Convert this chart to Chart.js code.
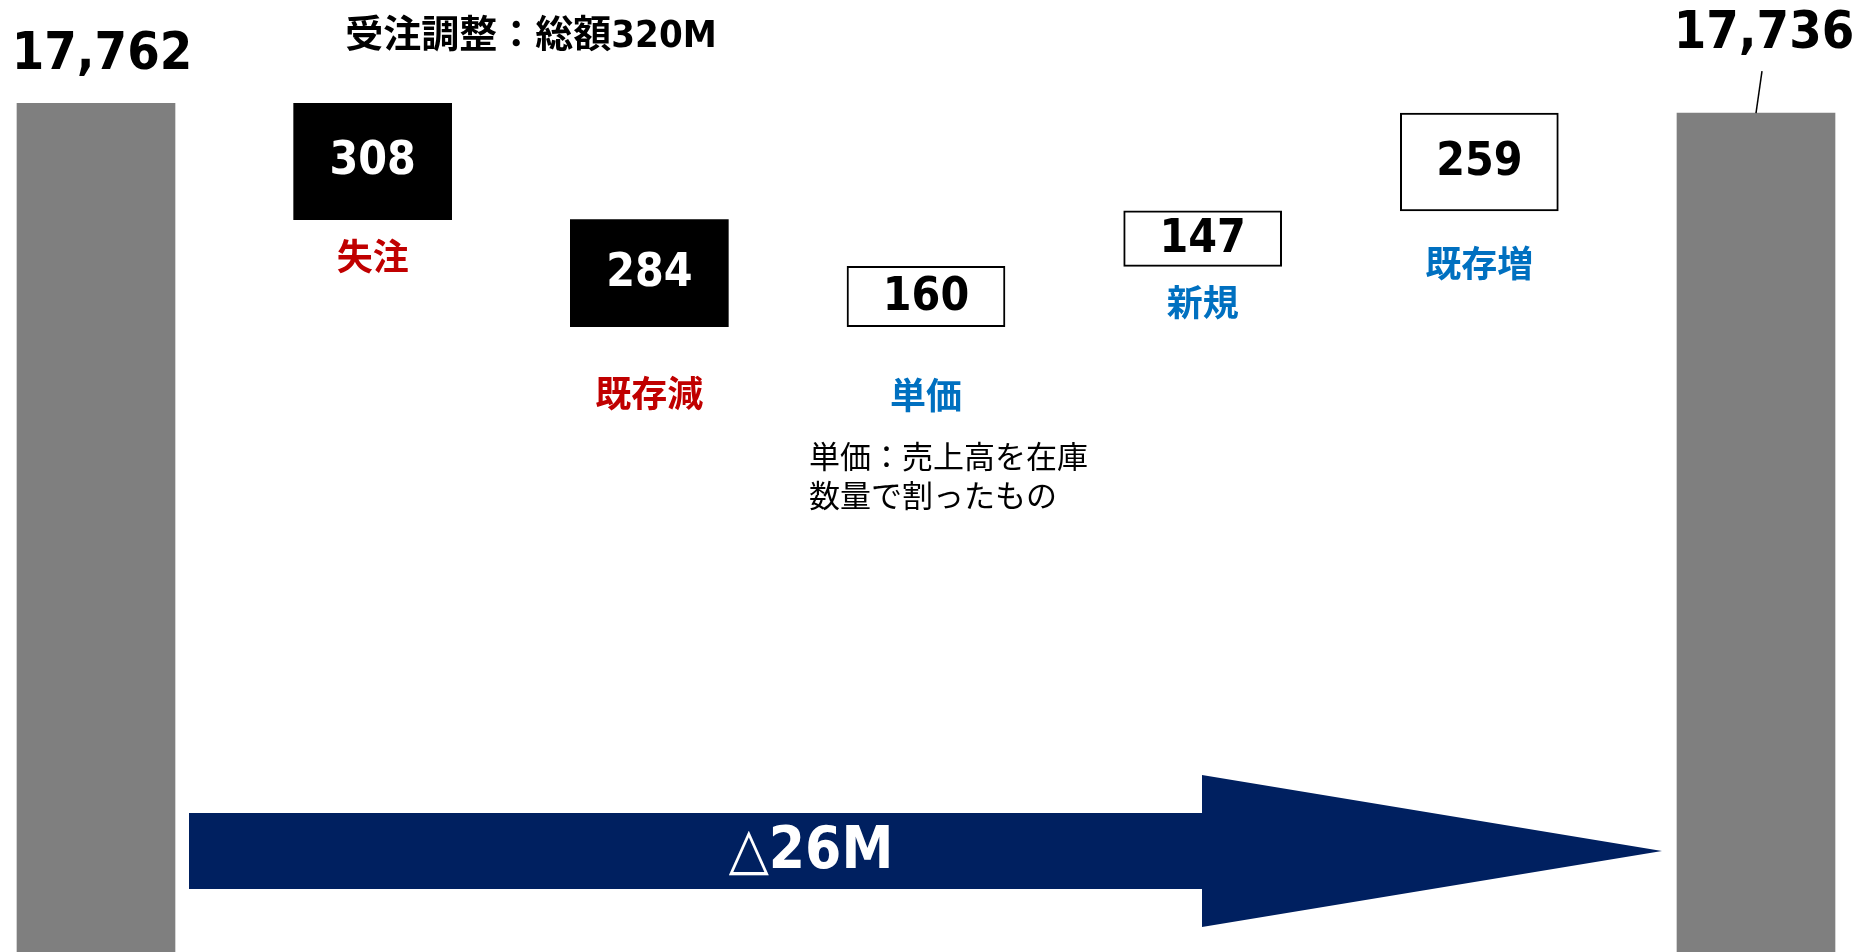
<!DOCTYPE html>
<html lang="ja">
<head>
<meta charset="utf-8">
<script src="https://cdn.jsdelivr.net/npm/chart.js@4.4.1/dist/chart.umd.min.js"></script>
<style>
  html, body { margin: 0; padding: 0; background: #ffffff; }
  #wrap { position: relative; width: 1856px; height: 952px; }
</style>
</head>
<body>
<div id="wrap"><canvas id="c"></canvas></div>
<script>
// ---- values ----
const categories = ['期首', '失注', '既存減', '単価', '新規', '既存増', '期末'];
const startTotal = 17762;
const endTotal = 17736;
const stepChanges = [-308, -284, 160, 147, 259];
const headline = '受注調整：総額320M';
const noteLines = ['単価：売上高を在庫', '数量で割ったもの'];
const axisMin = 15513;
const axisMax = 18036;

// ---- styling ----
const GRAY = '#7F7F7F';
const RED = '#C00000';
const BLUE = '#0070C0';
const NAVY = '#002060';
const NUM_FONT = "'DejaVu Sans Condensed', 'DejaVu Sans', 'Noto Sans CJK JP', sans-serif";
const JP_FONT = "'Noto Sans CJK JP', 'DejaVu Sans', sans-serif";
// distance from a box's bottom edge to the centre of its caption
const captionGap = [37, 67, 69, 36, 52];

// floating ranges of the waterfall
const ranges = [[axisMin, startTotal]];
let level = startTotal;
stepChanges.forEach(d => {
  const next = level + d;
  ranges.push([Math.min(level, next), Math.max(level, next)]);
  level = next;
});
ranges.push([axisMin, endTotal]);

const kinds = ['total', ...stepChanges.map(d => d < 0 ? 'down' : 'up'), 'total'];
const fills = kinds.map(k => k === 'total' ? GRAY : (k === 'down' ? '#000000' : '#FFFFFF'));
const borders = kinds.map(k => k === 'up' ? 2 : 0);

const fmt = v => v.toLocaleString('en-US');

const annotate = {
  id: 'annotate',
  afterDatasetsDraw(chart) {
    const ctx = chart.ctx;
    const bars = chart.getDatasetMeta(0).data;
    ctx.save();
    ctx.textAlign = 'center';
    ctx.textBaseline = 'middle';

    // step boxes: value inside, caption below
    stepChanges.forEach((d, i) => {
      const b = bars[i + 1];
      const top = Math.min(b.y, b.base), bottom = Math.max(b.y, b.base);
      ctx.fillStyle = d < 0 ? '#FFFFFF' : '#000000';
      ctx.font = `bold 46px ${NUM_FONT}`;
      ctx.fillText(String(Math.abs(d)), b.x, (top + bottom) / 2 + 1);
      ctx.fillStyle = d < 0 ? RED : BLUE;
      ctx.font = `bold 36px ${JP_FONT}`;
      ctx.fillText(categories[i + 1], b.x, bottom + captionGap[i]);
    });

    // note under the unit-price caption
    const pb = bars[3];
    ctx.fillStyle = '#000000';
    ctx.textAlign = 'left';
    ctx.font = `31px ${JP_FONT}`;
    noteLines.forEach((t, k) => ctx.fillText(t, pb.x - 117, Math.max(pb.y, pb.base) + 129 + k * 39));

    // totals above the gray bars
    ctx.textAlign = 'center';
    ctx.textBaseline = 'alphabetic';
    ctx.font = `bold 52px ${NUM_FONT}`;
    const first = bars[0], last = bars[bars.length - 1];
    ctx.fillText(fmt(startTotal), first.x + 6, first.y - 34);
    ctx.fillText(fmt(endTotal), last.x + 8, last.y - 65);
    ctx.strokeStyle = '#000000';
    ctx.lineWidth = 1.5;
    ctx.beginPath();
    ctx.moveTo(last.x + 6, last.y - 42);
    ctx.lineTo(last.x, last.y);
    ctx.stroke();

    // headline
    ctx.textBaseline = 'middle';
    ctx.font = `bold 38px ${NUM_FONT}`;
    ctx.fillText(headline, 531, 37);

    // overall change arrow
    const x0 = first.x + first.width / 2 + 14;
    const tip = last.x - last.width / 2 - 15;
    const neck = tip - 460;
    const cy = 851;
    ctx.fillStyle = NAVY;
    ctx.beginPath();
    ctx.moveTo(x0, cy - 38);
    ctx.lineTo(neck, cy - 38);
    ctx.lineTo(neck, cy - 76);
    ctx.lineTo(tip, cy);
    ctx.lineTo(neck, cy + 76);
    ctx.lineTo(neck, cy + 38);
    ctx.lineTo(x0, cy + 38);
    ctx.closePath();
    ctx.fill();

    const delta = endTotal - startTotal;
    ctx.fillStyle = '#FFFFFF';
    ctx.font = `bold 58px ${NUM_FONT}`;
    ctx.fillText((delta < 0 ? '△' : '+') + Math.abs(delta) + 'M', x0 + 622, cy + 2);
    ctx.restore();
  }
};

new Chart(document.getElementById('c'), {
  type: 'bar',
  data: {
    labels: categories,
    datasets: [{
      data: ranges,
      backgroundColor: fills,
      borderColor: '#000000',
      borderWidth: borders,
      borderSkipped: false,
      barThickness: 158,
      clip: false
    }]
  },
  options: {
    responsive: true,
    maintainAspectRatio: false,
    animation: false,
    layout: { padding: { left: 96, right: 100, top: 0, bottom: 0 } },
    plugins: { legend: { display: false }, tooltip: { enabled: false }, title: { display: false } },
    scales: {
      x: { display: false, offset: false, grid: { display: false } },
      y: { display: false, min: axisMin, max: axisMax, grid: { display: false } }
    }
  },
  plugins: [annotate]
});
</script>
</body>
</html>
